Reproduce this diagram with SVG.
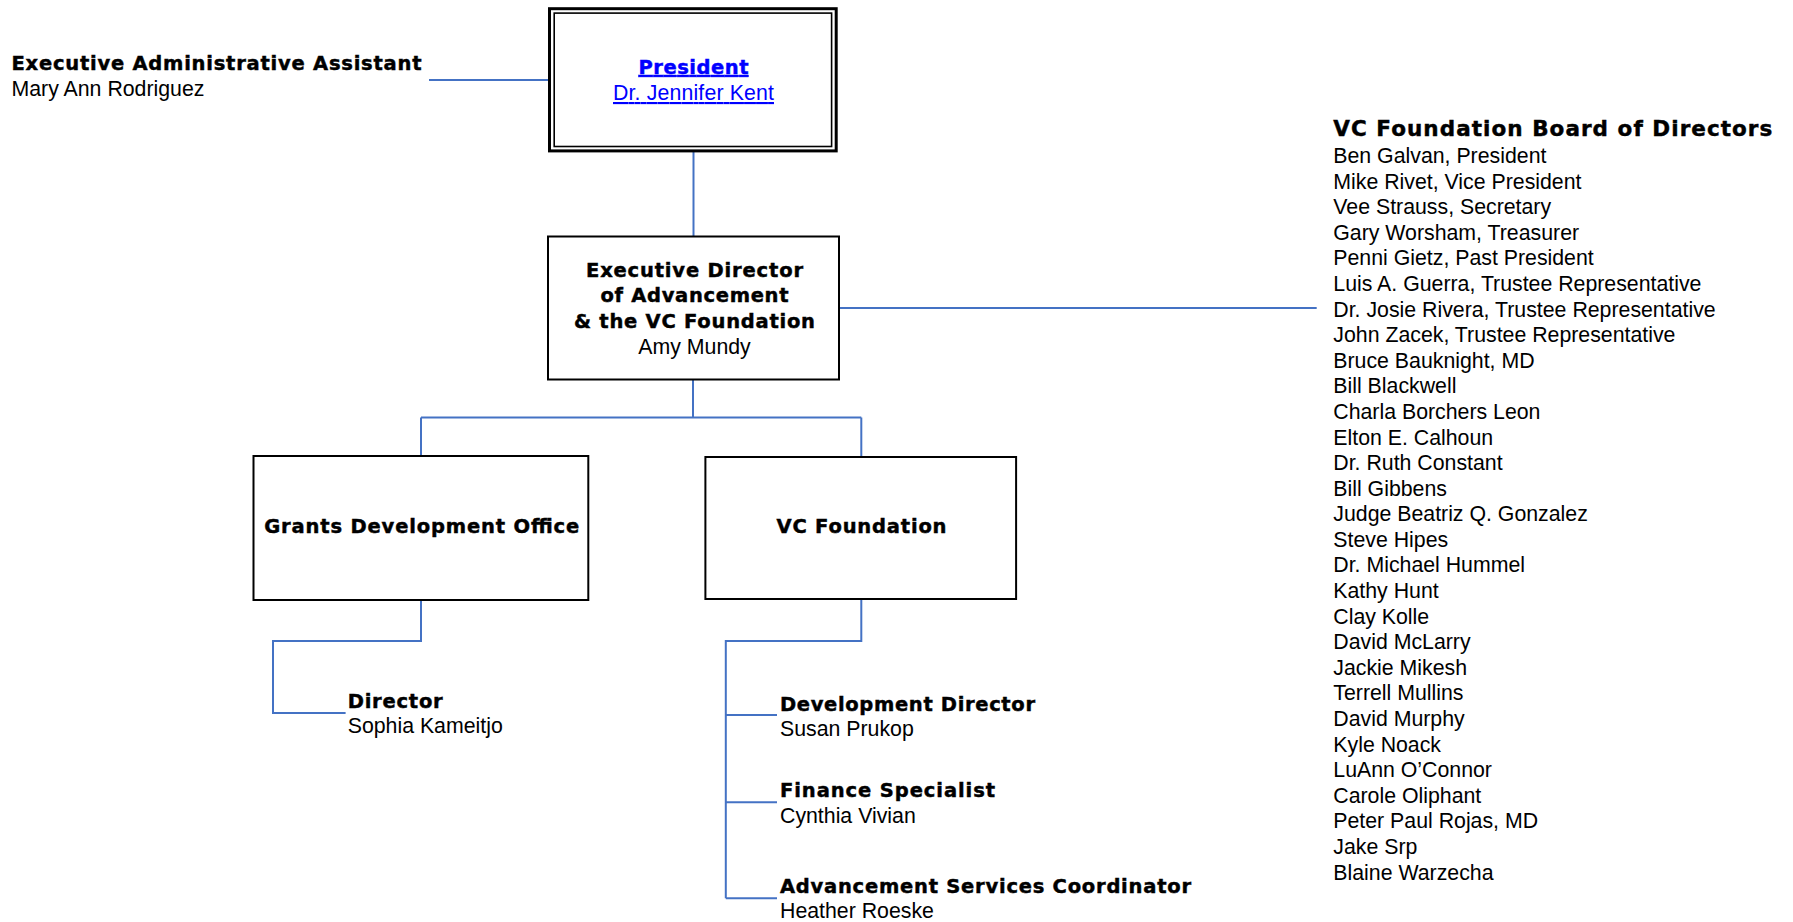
<svg xmlns="http://www.w3.org/2000/svg" width="1793" height="922" viewBox="0 0 1793 922">
<style>
.b{font-family:"DejaVu Sans","Liberation Sans",sans-serif;font-weight:bold;font-size:19.5px;fill:#000;stroke:#000;stroke-width:0.45}
.r{font-family:"Liberation Sans",Arial,sans-serif;font-size:21.3px;fill:#000}
.c{text-anchor:middle}
.lnk{fill:#0000ff;text-decoration:underline}
.lb{fill:#0000ff;stroke:#0000ff;text-decoration:underline}
.box{fill:#fff;stroke:#000;stroke-width:2}
.con{fill:none;stroke:#4472c4;stroke-width:2}
</style>
<rect width="1793" height="922" fill="#fff"/>
<g id="connectors" class="con">
<path d="M429 80H549"/>
<path d="M693.5 152V236"/>
<path d="M840 308H1316.7"/>
<path d="M693 380V417.5"/>
<path d="M421 417.5H861.3"/>
<path d="M421 417.5V455"/>
<path d="M861.3 417.5V456"/>
<path d="M421 601V641H273V713H345.6"/>
<path d="M861.3 600V641H725.8V898.3"/>
<path d="M725.8 715H777"/>
<path d="M725.8 802.3H777"/>
<path d="M725.8 898.3H777"/>
</g>
<g id="exec-admin">
<text class="b" x="11.5" y="70" textLength="410">Executive Administrative Assistant</text>
<text class="r" x="11.5" y="95.7">Mary Ann Rodriguez</text>
</g>
<g id="president">
<rect x="549.5" y="8.7" width="286.7" height="142.2" fill="#fff" stroke="#000" stroke-width="3"/>
<rect x="554.2" y="13.1" width="277.4" height="133.4" fill="none" stroke="#000" stroke-width="1.6"/>
<text class="b c lb" x="693.5" y="74" textLength="110">President</text>
<text class="r c lnk" x="693.5" y="100" textLength="161">Dr. Jennifer Kent</text>
</g>
<g id="exec-director">
<rect class="box" x="548" y="236.5" width="291" height="143"/>
<text class="b c" x="694.5" y="276.7" textLength="217">Executive Director</text>
<text class="b c" x="694.5" y="301.7" textLength="188">of Advancement</text>
<text class="b c" x="694.5" y="327.7" textLength="241">&amp; the VC Foundation</text>
<text class="r c" x="694.5" y="354">Amy Mundy</text>
</g>
<g id="grants">
<rect class="box" x="253.5" y="456" width="334.8" height="144"/>
<text class="b c" x="421.7" y="533.3" textLength="315">Grants Development Office</text>
</g>
<g id="vc-foundation">
<rect class="box" x="705.4" y="457" width="310.7" height="142"/>
<text class="b c" x="861.5" y="532.7" textLength="170">VC Foundation</text>
</g>
<g id="director">
<text class="b" x="347.7" y="708" textLength="95">Director</text>
<text class="r" x="347.7" y="733">Sophia Kameitjo</text>
</g>
<g id="development-director">
<text class="b" x="780" y="711" textLength="255">Development Director</text>
<text class="r" x="780" y="736">Susan Prukop</text>
</g>
<g id="finance-specialist">
<text class="b" x="780" y="796.7" textLength="215">Finance Specialist</text>
<text class="r" x="780" y="822.7">Cynthia Vivian</text>
</g>
<g id="advancement-coordinator">
<text class="b" x="780" y="893.3" textLength="411">Advancement Services Coordinator</text>
<text class="r" x="780" y="917.5">Heather Roeske</text>
</g>
<g id="board">
<text class="b" x="1333.3" y="136" style="font-size:21.5px" textLength="439">VC Foundation Board of Directors</text>
<text class="r" x="1333.3" y="163">Ben Galvan, President</text>
<text class="r" x="1333.3" y="188.6">Mike Rivet, Vice President</text>
<text class="r" x="1333.3" y="214.2">Vee Strauss, Secretary</text>
<text class="r" x="1333.3" y="239.8">Gary Worsham, Treasurer</text>
<text class="r" x="1333.3" y="265.4">Penni Gietz, Past President</text>
<text class="r" x="1333.3" y="291">Luis A. Guerra, Trustee Representative</text>
<text class="r" x="1333.3" y="316.5">Dr. Josie Rivera, Trustee Representative</text>
<text class="r" x="1333.3" y="342.1">John Zacek, Trustee Representative</text>
<text class="r" x="1333.3" y="367.7">Bruce Bauknight, MD</text>
<text class="r" x="1333.3" y="393.3">Bill Blackwell</text>
<text class="r" x="1333.3" y="418.9">Charla Borchers Leon</text>
<text class="r" x="1333.3" y="444.5">Elton E. Calhoun</text>
<text class="r" x="1333.3" y="470.1">Dr. Ruth Constant</text>
<text class="r" x="1333.3" y="495.7">Bill Gibbens</text>
<text class="r" x="1333.3" y="521.3">Judge Beatriz Q. Gonzalez</text>
<text class="r" x="1333.3" y="546.9">Steve Hipes</text>
<text class="r" x="1333.3" y="572.4">Dr. Michael Hummel</text>
<text class="r" x="1333.3" y="598">Kathy Hunt</text>
<text class="r" x="1333.3" y="623.6">Clay Kolle</text>
<text class="r" x="1333.3" y="649.2">David McLarry</text>
<text class="r" x="1333.3" y="674.8">Jackie Mikesh</text>
<text class="r" x="1333.3" y="700.4">Terrell Mullins</text>
<text class="r" x="1333.3" y="726">David Murphy</text>
<text class="r" x="1333.3" y="751.6">Kyle Noack</text>
<text class="r" x="1333.3" y="777.2">LuAnn O’Connor</text>
<text class="r" x="1333.3" y="802.8">Carole Oliphant</text>
<text class="r" x="1333.3" y="828.3">Peter Paul Rojas, MD</text>
<text class="r" x="1333.3" y="853.9">Jake Srp</text>
<text class="r" x="1333.3" y="879.5">Blaine Warzecha</text>
</g>
</svg>
